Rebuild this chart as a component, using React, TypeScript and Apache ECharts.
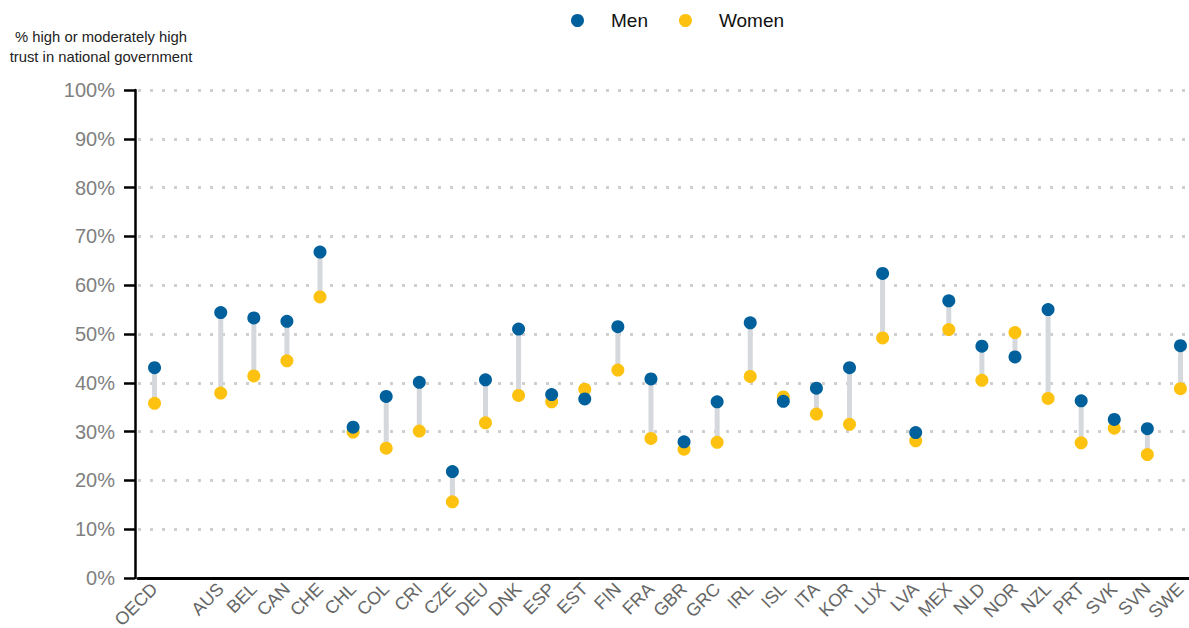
import React, { useEffect, useRef } from "react";
import * as echarts from "echarts";

const categories = ["OECD", "", "AUS", "BEL", "CAN", "CHE", "CHL", "COL", "CRI", "CZE", "DEU", "DNK", "ESP", "EST", "FIN", "FRA", "GBR", "GRC", "IRL", "ISL", "ITA", "KOR", "LUX", "LVA", "MEX", "NLD", "NOR", "NZL", "PRT", "SVK", "SVN", "SWE"];
const men = [43.1, null, 54.4, 53.3, 52.6, 66.8, 30.9, 37.2, 40.1, 21.8, 40.6, 51.0, 37.6, 36.7, 51.5, 40.8, 27.9, 36.1, 52.3, 36.2, 38.9, 43.1, 62.4, 29.8, 56.8, 47.5, 45.3, 55.0, 36.3, 32.5, 30.6, 47.6];
const women = [35.8, null, 37.9, 41.4, 44.5, 57.6, 29.9, 26.6, 30.1, 15.6, 31.8, 37.4, 36.1, 38.7, 42.6, 28.6, 26.4, 27.8, 41.3, 37.1, 33.6, 31.5, 49.2, 28.1, 50.9, 40.5, 50.3, 36.8, 27.7, 30.7, 25.3, 38.8];
const yTicks = [0, 10, 20, 30, 40, 50, 60, 70, 80, 90, 100];

const FONT = "'Liberation Sans', Arial, sans-serif";

export default function App() {
  const ref = useRef<HTMLDivElement>(null);
  useEffect(() => {
    if (!ref.current) return;
    const chart = echarts.init(ref.current, null, { renderer: "svg" });
    const rangeData = categories
      .map((c, i) => [i, men[i], women[i]])
      .filter((d) => d[1] !== null && d[2] !== null);
    chart.setOption({
      animation: false,
      textStyle: { fontFamily: FONT },
      legend: {
        data: ["Men", "Women"],
        left: 566,
        top: 6,
        icon: "circle",
        itemWidth: 13,
        itemHeight: 13,
        itemGap: 31,
        textStyle: { fontSize: 19, color: "#111", fontFamily: FONT, padding: [0, 0, 0, 22] },
      },
      graphic: [
        {
          type: "text",
          x: 101,
          y: 27,
          style: {
            text: "% high or moderately high\ntrust in national government",
            font: `14.8px ${FONT}`,
            fill: "#222",
            textAlign: "center",
            lineHeight: 20,
          },
        },
      ],
      grid: { left: 138, top: 90, width: 1059, bottom: 50, containLabel: false, outerBoundsMode: "none" },
      xAxis: {
        type: "category",
        data: categories,
        boundaryGap: true,
        axisLine: { show: true, lineStyle: { color: "#000", width: 3 } },
        axisTick: { show: false },
        axisLabel: { interval: 0, rotate: 45, fontSize: 18, color: "#666", margin: 8, fontFamily: FONT },
        splitLine: { show: false },
      },
      yAxis: {
        type: "value",
        min: 0,
        max: 100,
        interval: 10,
        offset: 3,
        axisLine: { show: true, lineStyle: { color: "#000", width: 2.5 } },
        axisTick: { show: true, length: 11, inside: false, lineStyle: { color: "#000", width: 2.5 } },
        axisLabel: {
          fontSize: 20,
          color: "#7f7f7f",
          margin: 20,
          fontFamily: FONT,
          formatter: (v: number) => (yTicks.includes(v) ? `${v}%` : ""),
        },
        splitLine: { show: true, lineStyle: { color: "#cfcfcf", width: 3, type: [3, 9] } },
      },
      series: [
        {
          type: "custom",
          name: "range",
          data: rangeData,
          encode: { x: 0, y: [1, 2] },
          z: 1,
          renderItem: (params: any, api: any) => {
            const i = api.value(0);
            const a = api.coord([i, api.value(1)]);
            const b = api.coord([i, api.value(2)]);
            return {
              type: "line",
              shape: { x1: a[0], y1: a[1], x2: b[0], y2: b[1] },
              style: { stroke: "#d5d8dc", lineWidth: 5 },
            };
          },
        },
        {
          type: "scatter",
          name: "Women",
          data: women,
          symbol: "circle",
          symbolSize: 13,
          itemStyle: { color: "#fdc20f", opacity: 1 },
          z: 2,
        },
        {
          type: "scatter",
          name: "Men",
          data: men,
          symbol: "circle",
          symbolSize: 13,
          itemStyle: { color: "#00609c", opacity: 1 },
          z: 3,
        },
      ],
    });
    return () => chart.dispose();
  }, []);
  return <div ref={ref} style={{ position: "absolute", left: 0, top: 0, width: 1189, height: 628 }} />;
}
